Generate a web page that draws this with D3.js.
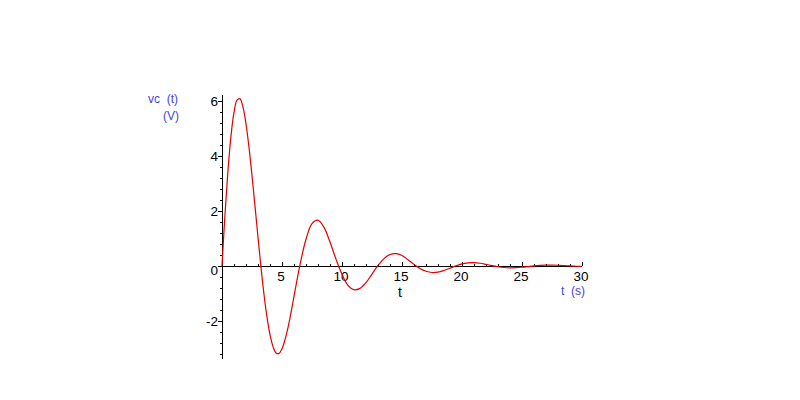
<!DOCTYPE html>
<html>
<head>
<meta charset="utf-8">
<script src="https://cdn.jsdelivr.net/npm/d3@7"></script>
<style>
  body { margin: 0; background: #fff; }
  svg { display: block; }
  text { font-family: "Liberation Sans", Arial, sans-serif; }
</style>
</head>
<body>
<div id="chart"></div>
<script>
// sample times (s) and capacitor voltage vc(t) (V)
const times = [0, 0.25, 0.5, 0.75, 1, 1.25, 1.5, 1.75, 2, 2.25, 2.5, 2.75, 3, 3.25, 3.5, 3.75,
  4, 4.25, 4.5, 4.75, 5, 5.25, 5.5, 5.75, 6, 6.25, 6.5, 7, 7.5, 8, 8.5, 9, 9.5,
  10, 10.5, 11, 11.5, 12, 12.5, 13, 13.5, 14, 14.5, 15, 15.5, 16, 16.5, 17, 17.5, 18, 18.5, 19, 19.5,
  20, 20.5, 21, 21.5, 22, 22.5, 23, 23.5, 24, 24.5, 25, 25.5, 26, 26.5, 27, 27.5, 28, 28.5, 29, 29.5, 30];
const voltage = [0, 1.88, 3.48, 4.72, 5.57, 6.01, 6.06, 5.76, 5.15, 4.3, 3.28, 2.17, 1.04, -0.05, -1.03, -1.85,
  -2.49, -2.92, -3.15, -3.17, -3.0, -2.67, -2.23, -1.69, -1.1, -0.51, 0.05, 0.97, 1.54, 1.66, 1.4, 0.87, 0.25,
  -0.3, -0.7, -0.86, -0.81, -0.6, -0.29, 0.02, 0.27, 0.42, 0.45, 0.38, 0.23, 0.06, -0.09, -0.19, -0.235, -0.22, -0.16, -0.08, 0.01,
  0.08, 0.116, 0.123, 0.1, 0.06, 0.016, -0.025, -0.053, -0.064, -0.06, -0.043, -0.02, 0.003, 0.021, 0.032, 0.034, 0.028, 0.017, 0.004, -0.007, -0.015];

const xTicks = [5, 10, 15, 20, 25, 30];
const yTicks = [-2, 0, 2, 4, 6];

const width = 800, height = 400;
const blue = "#4545d8";

const svg = d3.select("#chart").append("svg")
    .attr("width", width)
    .attr("height", height);

const x = d3.scaleLinear().domain([0, 30]).range([222, 582]);
const y = d3.scaleLinear().domain([-3.37, 6.2]).range([359, 95]);

const x0 = x(0), y0 = y(0);

// horizontal axis through v = 0
svg.append("line")
    .attr("x1", x(0)).attr("x2", x(30))
    .attr("y1", Math.round(y0) + 0.5).attr("y2", Math.round(y0) + 0.5)
    .attr("stroke", "black");

// minor ticks every 1 s, pointing up; longer at the labelled ones
svg.append("g").selectAll("line")
    .data(d3.range(1, 31))
    .join("line")
    .attr("x1", d => Math.round(x(d)) + 0.5).attr("x2", d => Math.round(x(d)) + 0.5)
    .attr("y1", d => Math.round(y0) - (xTicks.includes(d) ? 4 : 2))
    .attr("y2", Math.round(y0))
    .attr("stroke", "black");

svg.append("g").selectAll("text")
    .data(xTicks)
    .join("text")
    .attr("x", d => x(d) - 1)
    .attr("y", y0 + 15)
    .attr("text-anchor", "middle")
    .attr("font-size", 13.5)
    .text(d => d);

// vertical axis at t = 0
svg.append("line")
    .attr("x1", Math.round(x0) + 0.5).attr("x2", Math.round(x0) + 0.5)
    .attr("y1", y(6.2)).attr("y2", y(-3.37))
    .attr("stroke", "black");

// minor ticks every 0.4 V
const yMinor = d3.range(-8, 16).map(i => i * 0.4).filter(v => v >= -3.37 && v <= 6.2);
svg.append("g").selectAll("line")
    .data(yMinor)
    .join("line")
    .attr("x1", Math.round(x0) - 2).attr("x2", Math.round(x0))
    .attr("y1", d => Math.round(y(d)) + 0.5).attr("y2", d => Math.round(y(d)) + 0.5)
    .attr("stroke", "black");

svg.append("g").selectAll("line")
    .data(yTicks)
    .join("line")
    .attr("x1", Math.round(x0) - 4).attr("x2", Math.round(x0))
    .attr("y1", d => Math.round(y(d)) + 0.5).attr("y2", d => Math.round(y(d)) + 0.5)
    .attr("stroke", "black");

svg.append("g").selectAll("text")
    .data(yTicks)
    .join("text")
    .attr("x", x0 - 4)
    .attr("y", d => y(d) + (d === 0 ? 9 : 5))
    .attr("text-anchor", "end")
    .attr("font-size", 13.5)
    .text(d => d);

// axis titles
svg.append("text")
    .attr("x", 400).attr("y", 297)
    .attr("text-anchor", "middle")
    .attr("font-size", 14)
    .text("t");

svg.append("text")
    .attr("x", 573).attr("y", 295)
    .attr("text-anchor", "middle")
    .attr("font-size", 12)
    .attr("fill", blue)
    .attr("xml:space", "preserve")
    .text("t  (s)");

svg.append("text")
    .attr("x", 163).attr("y", 103)
    .attr("text-anchor", "middle")
    .attr("font-size", 12)
    .attr("fill", blue)
    .attr("xml:space", "preserve")
    .text("vc  (t)");

svg.append("text")
    .attr("x", 171).attr("y", 120)
    .attr("text-anchor", "middle")
    .attr("font-size", 12)
    .attr("fill", blue)
    .text("(V)");

// the response curve
const line = d3.line()
    .x((d, i) => x(times[i]))
    .y(d => y(d))
    .curve(d3.curveCatmullRom);

svg.append("path")
    .datum(voltage)
    .attr("d", line)
    .attr("fill", "none")
    .attr("stroke", "#e00000")
    .attr("stroke-width", 1.2);
</script>
</body>
</html>
